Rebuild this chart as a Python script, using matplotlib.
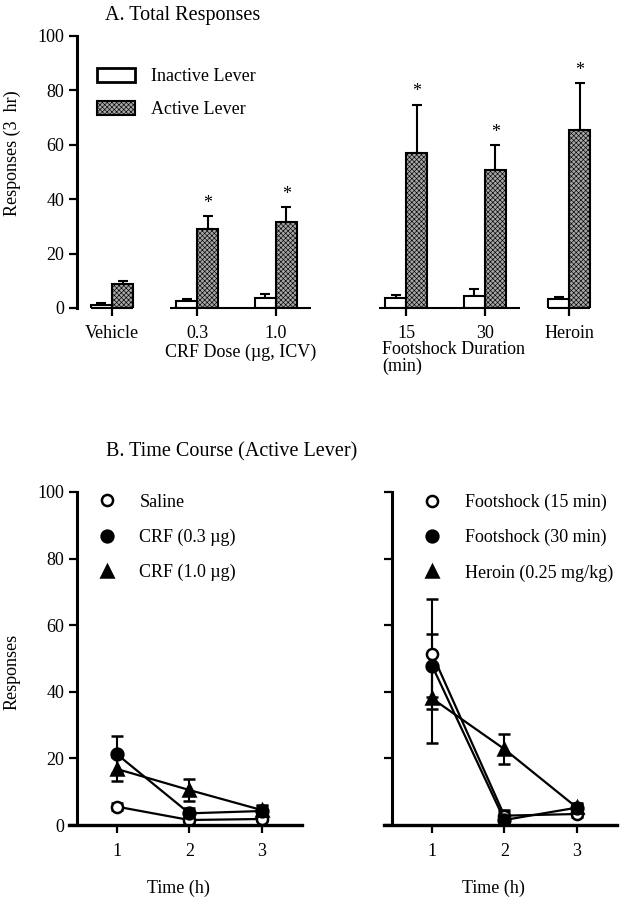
import matplotlib
matplotlib.use("Agg")
import matplotlib.pyplot as plt
import numpy as np
from matplotlib.lines import Line2D
from matplotlib.patches import Patch

plt.rcParams["font.family"] = ["Liberation Serif", "DejaVu Serif"]
plt.rcParams["font.size"] = 13
plt.rcParams["hatch.color"] = "#5a5a5a"
plt.rcParams["hatch.linewidth"] = 0.45

# --- A. Total responses (3 hr) ---
groups = ["Vehicle", "0.3", "1.0", "15", "30", "Heroin"]
inactive = [1.1, 2.4, 3.5, 3.7, 4.3, 3.2]
inactive_err = [0.6, 1.0, 1.5, 1.1, 2.8, 1.0]
active = [8.8, 28.9, 31.5, 57.0, 50.6, 65.6]
active_err = [1.3, 5.0, 5.7, 17.8, 9.2, 17.2]
signif = [False, True, True, True, True, True]

# --- B. Time course (active lever) ---
hours = [1, 2, 3]
saline = [5.5, 1.5, 1.8]
saline_err = [1.0, 0.6, 0.6]
crf_03 = [21.2, 3.5, 4.2]
crf_03_err = [5.6, 1.5, 1.5]
crf_10 = [16.8, 10.5, 4.5]
crf_10_err = [3.7, 3.2, 1.4]
fs_15 = [51.4, 2.8, 3.3]
fs_15_err = [16.6, 1.2, 1.0]
fs_30 = [47.8, 1.5, 5.2]
fs_30_err = [9.5, 3.0, 1.0]
heroin = [38.0, 22.8, 5.3]
heroin_err = [13.3, 4.6, 1.2]

# group positions along the bar axis (gaps between the three blocks)
xpos = np.array([0.0, 1.05, 2.02, 3.63, 4.6, 5.64])
bw = 0.26
ACTIVE_FC = "#a6a6a6"
ACTIVE_HATCH = "xxxxxxx"

fig = plt.figure(figsize=(6.22, 9), dpi=100)

ax = fig.add_axes([77 / 622, 592 / 900, 540 / 622, 272 / 900])
ax.bar(xpos - bw, inactive, bw, align="edge", color="white",
       edgecolor="black", linewidth=1.5, zorder=3)
ax.bar(xpos, active, bw, align="edge", color=ACTIVE_FC, hatch=ACTIVE_HATCH,
       edgecolor="black", linewidth=1.5, zorder=3)
ax.errorbar(xpos - bw / 2, inactive, yerr=[np.zeros(6), inactive_err],
            fmt="none", ecolor="black", elinewidth=1.5, capsize=3.5,
            capthick=1.5, zorder=2)
ax.errorbar(xpos + bw / 2, active, yerr=[np.zeros(6), active_err],
            fmt="none", ecolor="black", elinewidth=1.5, capsize=3.5,
            capthick=1.5, zorder=2)
for xi, top, e, s in zip(xpos, active, active_err, signif):
    if s:
        ax.annotate("*", (xi + bw / 2, top + e), xytext=(0, 3),
                    textcoords="offset points", ha="center", va="bottom")

# broken baseline under each block
blocks = [(0, 0), (1, 2), (3, 4), (5, 5)]
for a, b in blocks:
    lo = xpos[a] - bw if a in (0, 5) else xpos[a] - bw - 0.08
    hi = xpos[b] + bw if b in (0, 5) else xpos[b] + bw + 0.17
    ax.plot([lo, hi], [0, 0], color="black", lw=1.5, clip_on=False,
            solid_capstyle="butt", zorder=4)

ax.set_xlim(-0.432, 6.23)
ax.set_ylim(0, 100)
ax.set_yticks([0, 20, 40, 60, 80, 100])
ax.set_xticks(xpos)
ax.set_xticklabels(groups)
for sp in ["top", "right", "bottom"]:
    ax.spines[sp].set_visible(False)
ax.spines["left"].set_linewidth(2.2)
ax.tick_params(axis="y", direction="out", length=6, width=1.6, pad=3)
ax.tick_params(axis="x", direction="out", length=6, width=1.6, pad=6)
ax.set_ylabel("Responses (3  hr)")
ax.yaxis.set_label_coords(-0.104, 0.57)
ax.set_title("A. Total Responses", fontsize=14.5, x=0.196, y=1.03,
             ha="center")
ax.text(165, 900 - 352, "CRF Dose (\u00b5g, ICV)", transform=None,
        ha="left", va="center")
ax.text(382, 900 - 341, "Footshock Duration\n(min)", transform=None,
        ha="left", va="top", linespacing=1.0)

ax.legend(handles=[Patch(facecolor="white", edgecolor="black", lw=2),
                   Patch(facecolor=ACTIVE_FC, hatch=ACTIVE_HATCH,
                         edgecolor="black", lw=1.5)],
          labels=["Inactive Lever", "Active Lever"],
          loc="upper left", bbox_to_anchor=(97 / 622, 1 - 68 / 900),
          bbox_transform=fig.transFigure, frameon=False,
          handlelength=2.1, handleheight=0.83, labelspacing=0.87,
          handletextpad=0.9, borderpad=0, borderaxespad=0)


def time_panel(ax, series, labels, styles, show_labels, leg_x):
    for (y, err), (mk, mfc, ms) in zip(series, styles):
        ax.errorbar(hours, y, yerr=err, color="black", lw=1.6,
                    elinewidth=1.5, capsize=4, capthick=1.5, marker=mk,
                    markersize=ms, markerfacecolor=mfc,
                    markeredgecolor="black", markeredgewidth=1.8)
    ax.set_xlim(0.444, 3.56)
    ax.set_ylim(0, 100)
    ax.set_xticks(hours)
    ax.set_yticks([0, 20, 40, 60, 80, 100])
    for sp in ["top", "right"]:
        ax.spines[sp].set_visible(False)
    ax.spines["left"].set_linewidth(2.2)
    ax.spines["bottom"].set_linewidth(2.4)
    ax.spines["bottom"].set_bounds(0.333, 3.56)
    ax.tick_params(direction="out", length=6, width=1.6, pad=3)
    ax.tick_params(axis="x", pad=7)
    if not show_labels:
        ax.set_yticklabels([])
    ax.set_xlabel("Time (h)", va="center")
    ax.xaxis.set_label_coords(0.45, -0.19)
    handles = [Line2D([], [], ls="none", marker=mk, markersize=ms,
                      markerfacecolor=mfc, markeredgecolor="black",
                      markeredgewidth=1.8) for mk, mfc, ms in styles]
    ax.legend(handles, labels, loc="upper left",
              bbox_to_anchor=(leg_x, 0.995), frameon=False,
              handlelength=1.0, handletextpad=1.3, labelspacing=1.0,
              borderpad=0, borderaxespad=0)


styles = [("o", "white", 8), ("o", "black", 8.5), ("^", "black", 8)]

axl = fig.add_axes([77 / 622, 75 / 900, 225 / 622, 333 / 900])
time_panel(axl, [(saline, saline_err), (crf_03, crf_03_err),
                 (crf_10, crf_10_err)],
           ["Saline", "CRF (0.3 \u00b5g)", "CRF (1.0 \u00b5g)"], styles,
           True, 0.093)
axl.set_ylabel("Responses")
axl.yaxis.set_label_coords(-0.25, 0.46)

axr = fig.add_axes([392 / 622, 75 / 900, 225 / 622, 333 / 900])
time_panel(axr, [(fs_15, fs_15_err), (fs_30, fs_30_err),
                 (heroin, heroin_err)],
           ["Footshock (15 min)", "Footshock (30 min)",
            "Heroin (0.25 mg/kg)"], styles, False, 0.138)

fig.text(106 / 622, 1 - 452 / 900, "B. Time Course (Active Lever)",
         fontsize=14.5, ha="left", va="center")

fig.savefig("out.png", dpi=100)
